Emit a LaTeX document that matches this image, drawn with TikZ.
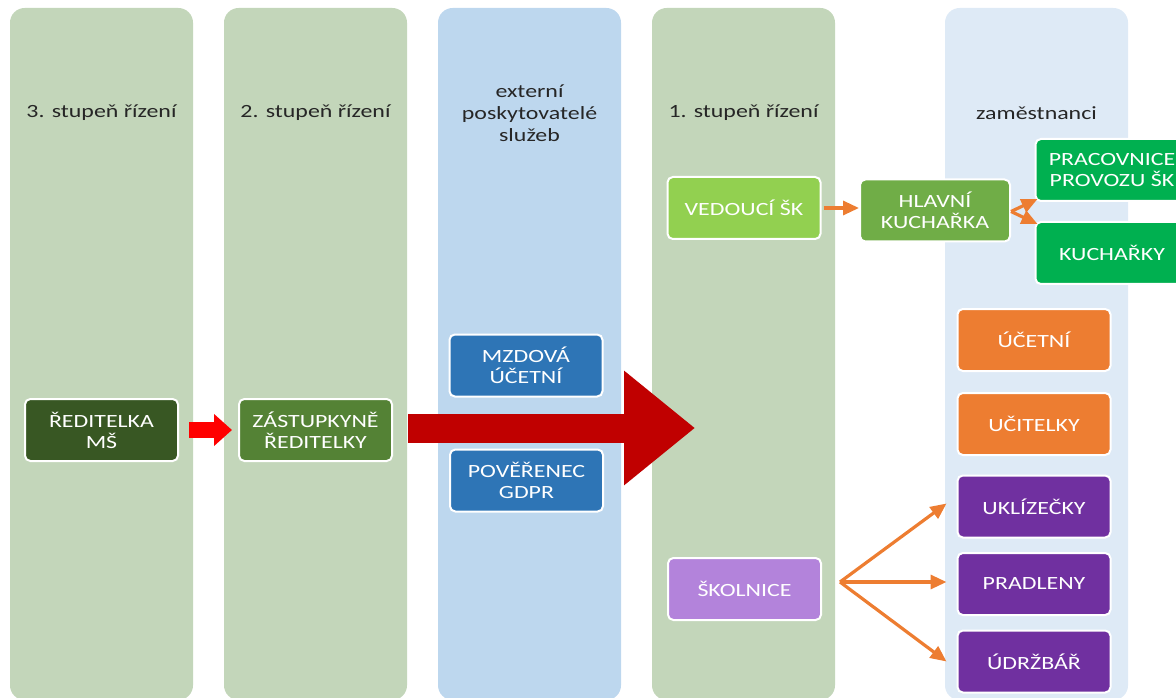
\documentclass[tikz,border=0pt]{standalone}
\usepackage{fontspec}
\setmainfont{Carlito}[FakeStretch=1.28]
\usetikzlibrary{arrows.meta,calc}
\definecolor{pgreen}{HTML}{C3D6BA}
\definecolor{pblue}{HTML}{BDD7EE}
\definecolor{plight}{HTML}{DEEAF6}
\definecolor{cdark}{HTML}{385723}
\definecolor{cmid}{HTML}{548235}
\definecolor{cblue}{HTML}{2E75B6}
\definecolor{clime}{HTML}{92D050}
\definecolor{cgrass}{HTML}{70AD47}
\definecolor{cvivid}{HTML}{00B050}
\definecolor{clav}{HTML}{B383DB}
\definecolor{corange}{HTML}{ED7D31}
\definecolor{cpurple}{HTML}{7030A0}
\definecolor{bigred}{HTML}{C00000}
\definecolor{titlegray}{HTML}{262626}
\tikzset{
  panel/.style={rounded corners=11pt},
  coltitle/.style={text=titlegray, align=center, inner sep=0pt, font=\fontsize{14}{16.5}\selectfont},
  box/.style={draw=white, line width=1.5pt, rounded corners=4pt, text=white, align=center,
    inner sep=0pt, minimum width=114.75pt, minimum height=46.5pt, font=\fontsize{14}{15.8}\selectfont},
  oarrow/.style={draw=corange, line width=2.4pt, -{Triangle[length=12pt,width=10.5pt]}},
  bigarrow/.style={draw=bigred, line width=21.75pt, -{Triangle[length=53.25pt,width=82.5pt]}},
  redarrow/.style={draw=red, line width=12pt, -{Triangle[length=13.5pt,width=23.25pt]}}
}
\begin{document}
\begin{tikzpicture}[x=0.75pt,y=-0.75pt]
\useasboundingbox (0,0) rectangle (1176,698);
\clip (0,0) rectangle (1176,698);
% panels
\fill[pgreen,panel] (10,8) rectangle (193,700);
\fill[pgreen,panel] (224,8) rectangle (407,700);
\fill[pblue,panel] (438,8) rectangle (621,700);
\fill[pgreen,panel] (652,8) rectangle (835,700);
\fill[plight,panel] (945,8) rectangle (1128,700);
% titles
\node[coltitle] (t3) at (101.5,113) {3. stupeň řízení};
\node[coltitle] (t2) at (315.5,113) {2. stupeň řízení};
\node[coltitle] (tx) at (529.5,113) {externí\\poskytovatelé\\služeb};
\node[coltitle] (t1) at (743.5,113) {1. stupeň řízení};
\node[coltitle] (tz) at (1036.5,113) {zaměstnanci};
% boxes
\node[box, fill=cdark] (red) at (101.5,430) {ŘEDITELKA\\MŠ};
\node[box, fill=cmid] (zast) at (315.5,430) {ZÁSTUPKYNĚ\\ŘEDITELKY};
\node[box, fill=cblue] (mzd) at (526,365.5) {MZDOVÁ\\ÚČETNÍ};
\node[box, fill=cblue] (pov) at (526.5,480.5) {POVĚŘENEC\\GDPR};
\node[box, fill=clime] (ved) at (744,208) {VEDOUCÍ ŠK};
\node[box, fill=cgrass, minimum width=112.5pt] (hlav) at (935,210.5) {HLAVNÍ\\KUCHAŘKA};
\node[box, fill=cvivid] (prac) at (1112,170) {PRACOVNICE\\PROVOZU ŠK};
\node[box, fill=cvivid] (kuch) at (1112,253) {KUCHAŘKY};
\node[box, fill=clav] (skol) at (744.5,589) {ŠKOLNICE};
\node[box, fill=corange] (ucet) at (1034,340) {ÚČETNÍ};
\node[box, fill=corange] (ucit) at (1034,424) {UČITELKY};
\node[box, fill=cpurple] (ukl) at (1034,506.5) {UKLÍZEČKY};
\node[box, fill=cpurple] (prad) at (1034,584) {PRADLENY};
\node[box, fill=cpurple] (udrz) at (1034,661.5) {ÚDRŽBÁŘ};
% arrows
\draw[redarrow] ($(red.east)+(10,0)$) -- ($(zast.west)+(-6,0)$);
\coordinate (bigtip) at (695,428);
\draw[bigarrow] ($(zast.east)+(15,-2)$) -- (bigtip);
\draw[oarrow] ($(ved.east)+(2,0)$) -- ($(ved.east -| hlav.west)$);
\draw[oarrow] ($(hlav.east)+(0,1)$) -- ($(prac.south west)+(3,-3)$);
\draw[oarrow] ($(hlav.east)+(0,1)$) -- ($(kuch.north west)+(3,3)$);
\coordinate (fan) at (840,582);
\draw[draw=corange, line width=2.4pt] (fan) -- ++(5,0);
\draw[oarrow] (fan) -- ($(ukl.west)+(-10,-3)$);
\draw[oarrow] (fan) -- ($(prad.west |- fan)+(-10,0)$);
\draw[oarrow] (fan) -- ($(udrz.west)+(-10,0)$);
\end{tikzpicture}
\end{document}
